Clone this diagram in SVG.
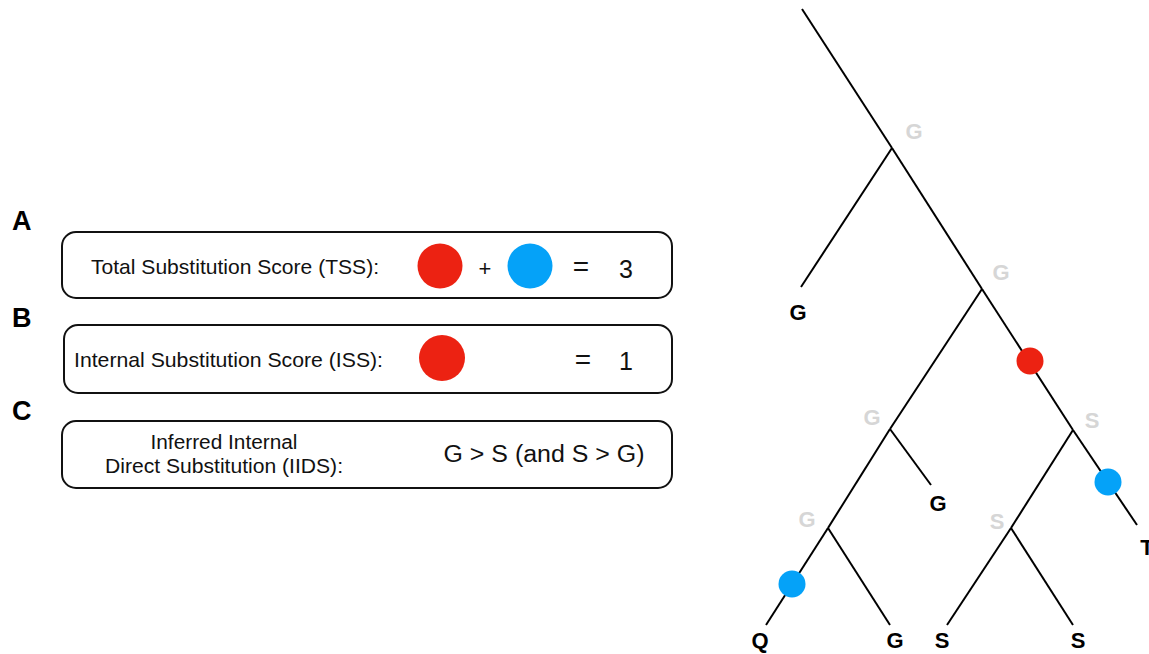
<svg xmlns="http://www.w3.org/2000/svg" width="1149" height="654" viewBox="0 0 1149 654">
<style>
.box{fill:#fff;stroke:#111;stroke-width:2}
.t{font-family:"Liberation Sans",Arial,sans-serif;fill:#111}
.lbl{font-family:"Liberation Sans",Arial,sans-serif;font-weight:bold;font-size:27px;fill:#000}
.br{stroke:#000;stroke-width:2;fill:none;stroke-linecap:butt}
.anc{font-family:"Liberation Sans",Arial,sans-serif;font-weight:bold;font-size:22px;fill:#d6d6d6;text-anchor:middle}
.leaf{font-family:"Liberation Sans",Arial,sans-serif;font-weight:bold;font-size:22px;fill:#000;text-anchor:middle}
.red{fill:#ec2212}
.blue{fill:#05a2f8}
</style>
<rect width="1149" height="654" fill="#fff"/>

<g id="panelA">
<text class="lbl" x="12" y="230">A</text>
<rect class="box" x="62" y="232" width="610" height="66" rx="14"/>
<text class="t" x="91" y="274" font-size="21" textLength="288" lengthAdjust="spacingAndGlyphs">Total Substitution Score (TSS):</text>
<circle class="red" cx="440" cy="266" r="22.5"/>
<text class="t" x="485" y="276" font-size="22" text-anchor="middle">+</text>
<circle class="blue" cx="530" cy="266" r="22.5"/>
<text class="t" x="581" y="276" font-size="28" text-anchor="middle">=</text>
<text class="t" x="626" y="278" font-size="25" text-anchor="middle">3</text>
</g>

<g id="panelB">
<text class="lbl" x="12" y="327">B</text>
<rect class="box" x="64" y="325" width="608" height="68" rx="14"/>
<text class="t" x="74" y="367" font-size="21" textLength="309" lengthAdjust="spacingAndGlyphs">Internal Substitution Score (ISS):</text>
<circle class="red" cx="442" cy="358" r="23"/>
<text class="t" x="583" y="369" font-size="28" text-anchor="middle">=</text>
<text class="t" x="626" y="370" font-size="25" text-anchor="middle">1</text>
</g>

<g id="panelC">
<text class="lbl" x="12" y="420">C</text>
<rect class="box" x="62" y="421" width="610" height="67" rx="14"/>
<text class="t" x="224" y="449" font-size="20" text-anchor="middle" textLength="147" lengthAdjust="spacingAndGlyphs">Inferred Internal</text>
<text class="t" x="224" y="473" font-size="20" text-anchor="middle" textLength="238" lengthAdjust="spacingAndGlyphs">Direct Substitution (IIDS):</text>
<text class="t" x="544" y="462" font-size="23" text-anchor="middle" textLength="201" lengthAdjust="spacingAndGlyphs">G &gt; S (and S &gt; G)</text>
</g>

<g id="connectors">
<line class="br" x1="802" y1="9" x2="892" y2="148"/>
<line class="br" x1="892" y1="148" x2="801" y2="287"/>
<line class="br" x1="892" y1="148" x2="982" y2="289"/>
<line class="br" x1="982" y1="289" x2="1073" y2="430"/>
<line class="br" x1="1073" y1="430" x2="1137" y2="525"/>
<line class="br" x1="982" y1="289" x2="890" y2="429"/>
<line class="br" x1="890" y1="429" x2="931" y2="485"/>
<line class="br" x1="890" y1="429" x2="828" y2="528"/>
<line class="br" x1="828" y1="528" x2="766" y2="625"/>
<line class="br" x1="828" y1="528" x2="890" y2="625"/>
<line class="br" x1="1073" y1="430" x2="1011" y2="528"/>
<line class="br" x1="1011" y1="528" x2="947" y2="625"/>
<line class="br" x1="1011" y1="528" x2="1073" y2="625"/>
</g>

<g id="substitutions">
<circle class="red" cx="1030" cy="361" r="13.5"/>
<circle class="blue" cx="1108" cy="482" r="13.5"/>
<circle class="blue" cx="792" cy="584" r="13.5"/>
</g>

<g id="node-root"><text class="anc" x="914" y="139">G</text></g>
<g id="node-g2"><text class="anc" x="1001" y="280">G</text></g>
<g id="node-g3"><text class="anc" x="872" y="425">G</text></g>
<g id="node-s1"><text class="anc" x="1092" y="428">S</text></g>
<g id="node-g4"><text class="anc" x="807" y="527">G</text></g>
<g id="node-s2"><text class="anc" x="997" y="529">S</text></g>

<g id="leaf-g1"><text class="leaf" x="798" y="320">G</text></g>
<g id="leaf-g2"><text class="leaf" x="938" y="511">G</text></g>
<g id="leaf-t"><text class="leaf" x="1147" y="555">T</text></g>
<g id="leaf-q"><text class="leaf" x="760" y="648">Q</text></g>
<g id="leaf-g3"><text class="leaf" x="895" y="648">G</text></g>
<g id="leaf-s1"><text class="leaf" x="942" y="648">S</text></g>
<g id="leaf-s2"><text class="leaf" x="1078" y="648">S</text></g>
</svg>
